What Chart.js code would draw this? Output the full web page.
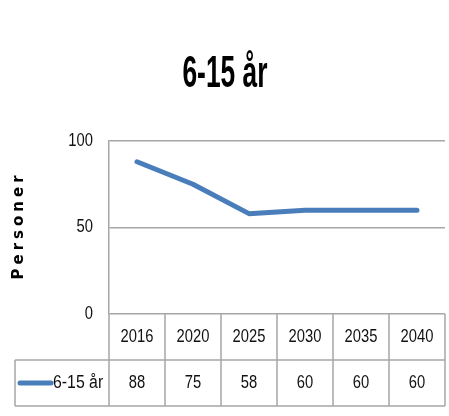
<!DOCTYPE html>
<html>
<head>
<meta charset="utf-8">
<script src="https://cdn.jsdelivr.net/npm/chart.js@4"></script>
<style>
  html, body { margin: 0; padding: 0; background: #fff; }
  #wrap { width: 449px; height: 416px; }
</style>
</head>
<body>
<div id="wrap"><canvas id="chart"></canvas></div>
<script>
// Chart data
const chartTitle = '6-15 år';
const axisTitle = 'Personer';
const seriesName = '6-15 år';
const years = ['2016', '2020', '2025', '2030', '2035', '2040'];
const values = [88, 75, 58, 60, 60, 60];
const yTicks = [0, 50, 100];

const lineColor = '#4a7ebb';
const gridColor = '#a6a6a6';
const textColor = '#111';
const font = '"Liberation Sans", Arial, sans-serif';

// draws text squeezed sideways, to get the narrow look of the original
function narrowText(ctx, text, x, y, size, align, squeeze, weight) {
    ctx.save();
    ctx.translate(x, y);
    ctx.scale(squeeze, 1);
    ctx.font = (weight || '') + ' ' + size + 'px ' + font;
    ctx.textAlign = align;
    ctx.textBaseline = 'middle';
    ctx.fillText(text, 0, 0);
    ctx.restore();
}

// Title, y axis label, y tick labels and the data table under the plot
const extras = {
    id: 'extras',
    afterDraw(chart) {
        const ctx = chart.ctx;
        const area = chart.chartArea;
        const x = chart.scales.x;
        const y = chart.scales.y;
        const rowH = 46;
        const half = (area.right - area.left) / (years.length * 2);
        const tableLeft = 15;
        const r1 = area.bottom + rowH;
        const r2 = r1 + rowH;

        ctx.save();

        // title
        ctx.fillStyle = '#000';
        narrowText(ctx, chartTitle, 225, 75, 44, 'center', 0.6, 'bold');

        // y axis title
        ctx.save();
        ctx.translate(19, (area.top + area.bottom) / 2);
        ctx.rotate(-Math.PI / 2);
        ctx.fillStyle = '#000';
        ctx.font = 'bold 15px "DejaVu Sans", sans-serif';
        ctx.letterSpacing = '4px';
        ctx.textAlign = 'center';
        ctx.textBaseline = 'middle';
        ctx.fillText(axisTitle, 2, 0);
        ctx.restore();

        // y tick labels
        ctx.fillStyle = textColor;
        yTicks.forEach(v => {
            narrowText(ctx, String(v), area.left - 16, y.getPixelForValue(v), 18, 'right', 0.82);
        });

        // table lines
        ctx.strokeStyle = gridColor;
        ctx.lineWidth = 1.5;
        ctx.beginPath();
        ctx.moveTo(tableLeft, r1); ctx.lineTo(area.right, r1);
        ctx.moveTo(tableLeft, r2); ctx.lineTo(area.right, r2);
        ctx.moveTo(tableLeft, r1); ctx.lineTo(tableLeft, r2);
        ctx.moveTo(area.left, area.bottom); ctx.lineTo(area.left, r2);
        years.forEach((yr, i) => {
            const edge = x.getPixelForValue(i) + half;
            ctx.moveTo(edge, area.bottom); ctx.lineTo(edge, r2);
        });
        ctx.stroke();

        // table text
        ctx.fillStyle = textColor;
        years.forEach((yr, i) => {
            const cx = x.getPixelForValue(i);
            narrowText(ctx, yr, cx, area.bottom + rowH / 2, 18, 'center', 0.82);
            narrowText(ctx, String(values[i]), cx, r1 + rowH / 2, 18, 'center', 0.82);
        });

        // legend key
        ctx.strokeStyle = lineColor;
        ctx.lineWidth = 5;
        ctx.lineCap = 'round';
        ctx.beginPath();
        ctx.moveTo(20, r1 + rowH / 2);
        ctx.lineTo(51, r1 + rowH / 2);
        ctx.stroke();
        narrowText(ctx, seriesName, 53, r1 + rowH / 2, 18, 'left', 0.88);

        ctx.restore();
    }
};

new Chart(document.getElementById('chart'), {
    type: 'line',
    data: {
        labels: years,
        datasets: [{
            label: seriesName,
            data: values,
            borderColor: lineColor,
            borderWidth: 5,
            borderCapStyle: 'round',
            borderJoinStyle: 'round',
            pointRadius: 0,
            tension: 0,
            fill: false
        }]
    },
    options: {
        responsive: true,
        maintainAspectRatio: false,
        animation: false,
        layout: {
            padding: { top: 141, right: 4, bottom: 102, left: 0 }
        },
        plugins: {
            legend: { display: false },
            title: { display: false },
            tooltip: { enabled: false }
        },
        scales: {
            x: {
                display: false,
                offset: true
            },
            y: {
                min: 0,
                max: 100,
                afterFit(scale) { scale.width = 109; },
                afterBuildTicks(scale) {
                    scale.ticks = yTicks.map(v => ({ value: v }));
                },
                grid: {
                    color: gridColor,
                    lineWidth: 1.5,
                    drawTicks: false
                },
                border: { display: true, color: gridColor, width: 1.5 },
                ticks: { display: false }
            }
        }
    },
    plugins: [extras]
});
</script>
</body>
</html>
